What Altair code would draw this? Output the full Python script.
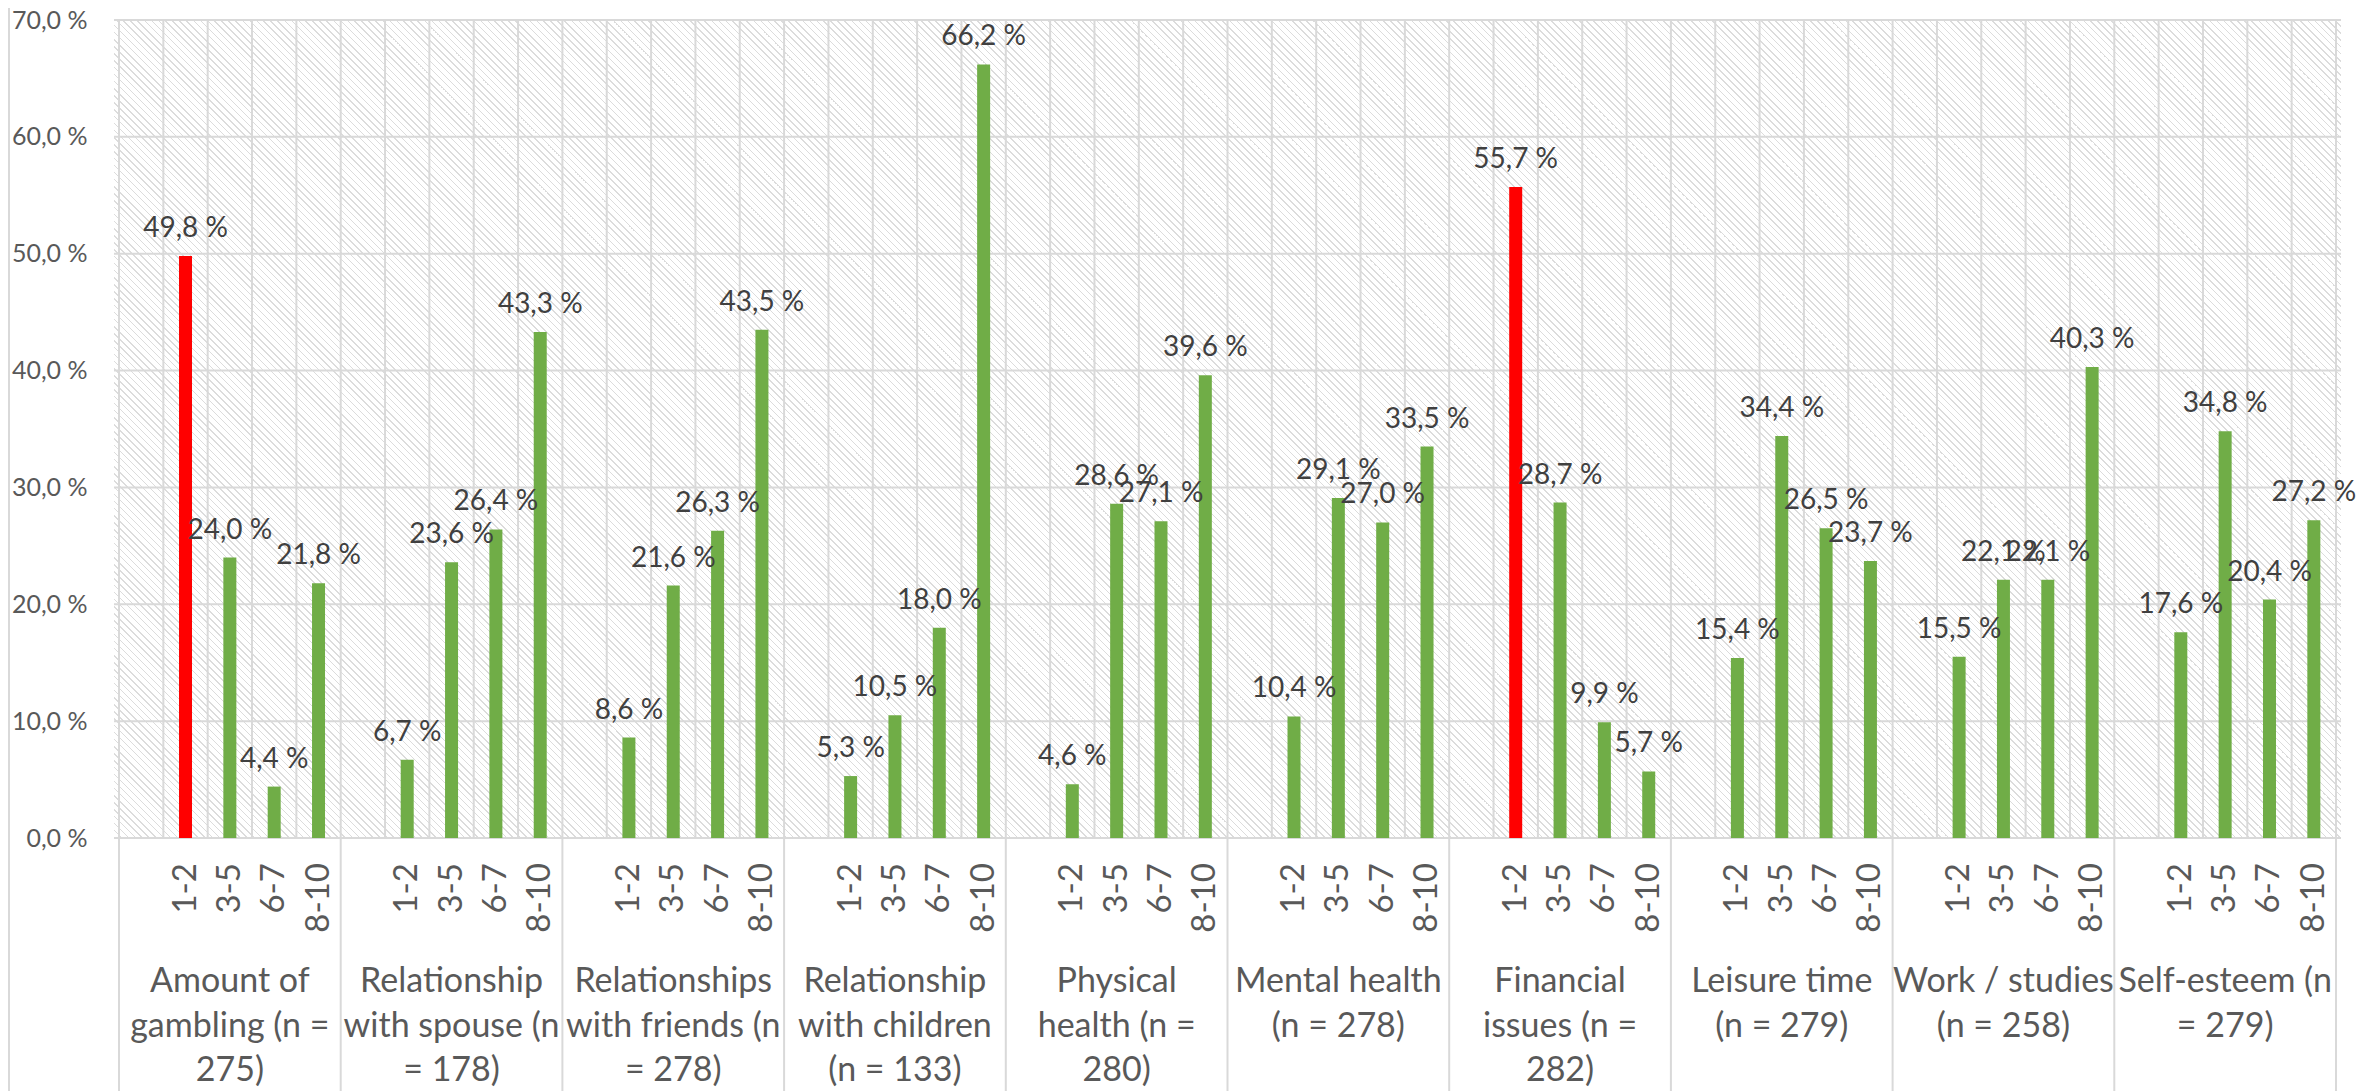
import altair as alt
import pandas as pd

# ---------------- data ----------------
groups = [
    "Amount of gambling", "Relationship with spouse", "Relationships with friends",
    "Relationship with children", "Physical health", "Mental health",
    "Financial issues", "Leisure time", "Work / studies", "Self-esteem",
]
group_labels = [
    "Amount of\ngambling (n =\n275)",
    "Relationship\nwith spouse (n\n= 178)",
    "Relationships\nwith friends (n\n= 278)",
    "Relationship\nwith children\n(n = 133)",
    "Physical\nhealth (n =\n280)",
    "Mental health\n(n = 278)",
    "Financial\nissues (n =\n282)",
    "Leisure time\n(n = 279)",
    "Work / studies\n(n = 258)",
    "Self-esteem (n\n= 279)",
]
bins = ["1-2", "3-5", "6-7", "8-10"]
amount_of_gambling = [49.8, 24.0, 4.4, 21.8]
relationship_spouse = [6.7, 23.6, 26.4, 43.3]
relationships_friends = [8.6, 21.6, 26.3, 43.5]
relationship_children = [5.3, 10.5, 18.0, 66.2]
physical_health = [4.6, 28.6, 27.1, 39.6]
mental_health = [10.4, 29.1, 27.0, 33.5]
financial_issues = [55.7, 28.7, 9.9, 5.7]
leisure_time = [15.4, 34.4, 26.5, 23.7]
work_studies = [15.5, 22.1, 22.1, 40.3]
self_esteem = [17.6, 34.8, 20.4, 27.2]
series = [amount_of_gambling, relationship_spouse, relationships_friends,
          relationship_children, physical_health, mental_health,
          financial_issues, leisure_time, work_studies, self_esteem]
highlighted = [("Amount of gambling", "1-2"), ("Financial issues", "1-2")]
y_ticks = [0, 10, 20, 30, 40, 50, 60, 70]

SLOTS = 5  # each group: one empty slot + four bins

rows = []
for gi, (g, vals) in enumerate(zip(groups, series)):
    for bi, (b, v) in enumerate(zip(bins, vals)):
        rows.append({
            "group": g, "bin": b, "value": v,
            "pos": gi * SLOTS + bi + 1.5,
            "label": f"{v:.1f}".replace(".", ",") + " %",
            "hl": "yes" if (g, b) in highlighted else "no",
        })
df = pd.DataFrame(rows)
gdf = pd.DataFrame({"glabel": group_labels,
                    "center": [gi * SLOTS + 2.5 for gi in range(len(groups))]})
slot_edges = pd.DataFrame({"edge": list(range(len(groups) * SLOTS + 1))})
group_edges = pd.DataFrame({"edge": list(range(0, len(groups) * SLOTS + 1, SLOTS))})
grid_df = pd.DataFrame({"value": y_ticks})

# ---------------- layout / style ----------------
W, H = 2227, 818
GRID = "#d9d9d9"
FONT = "Lato"
xs = alt.Scale(domain=[0, len(groups) * SLOTS], nice=False, zero=False)
ys = alt.Scale(domain=[0, 70], nice=False)
yaxis = alt.Axis(values=y_ticks, grid=False, ticks=False, domain=False,
                 labelExpr="replace(format(datum.value, '.1f'), '.', ',') + ' %'",
                 labelFont=FONT, labelFontSize=25, labelColor="#595959",
                 labelPadding=27, title=None)

# hatch (downward diagonal) gradient in bounding-box units
period = 7.0
N = int(round((W + H) / period))
frac = 0.27
stripe, white = "#dcdcdc", "#ffffff"
stops = []
for k in range(N):
    o0, o1, o2 = k / N, (k + frac) / N, (k + 1) / N
    stops += [{"offset": round(o0, 6), "color": stripe},
              {"offset": round(o1, 6), "color": stripe},
              {"offset": round(o1, 6), "color": white},
              {"offset": round(min(o2, 1.0), 6), "color": white}]
a = (W + H) * W / (W * W + H * H)
b = -(W + H) * H / (W * W + H * H)
hatch = {"gradient": "linear", "x1": 0, "y1": 1, "x2": a, "y2": 1 + b, "stops": stops}

bg = alt.Chart(alt.Data(values=[{"k": 1}])).mark_rect(fill=hatch).encode(
    x=alt.value(0), x2=alt.value(W), y=alt.value(0), y2=alt.value(H))

vgrid = alt.Chart(slot_edges).mark_rule(color=GRID, strokeWidth=2).encode(
    x=alt.X("edge:Q", scale=xs, axis=None), y=alt.value(0), y2=alt.value(H))

hgrid = alt.Chart(grid_df).mark_rule(color=GRID, strokeWidth=2).encode(
    y=alt.Y("value:Q", scale=ys, axis=yaxis), x=alt.value(0), x2=alt.value(W))

seps = alt.Chart(group_edges).mark_rule(color=GRID, strokeWidth=2).encode(
    x=alt.X("edge:Q", scale=xs, axis=None), y=alt.value(H), y2=alt.value(H + 270))

border = alt.Chart(alt.Data(values=[{"k": 1}])).mark_rule(color=GRID, strokeWidth=2).encode(
    x=alt.value(-105), y=alt.value(-12), y2=alt.value(H + 270))

bars = alt.Chart(df).mark_bar(size=13).encode(
    x=alt.X("pos:Q", scale=xs, axis=None),
    y=alt.Y("value:Q", scale=ys, axis=yaxis),
    color=alt.Color("hl:N", scale=alt.Scale(domain=["no", "yes"], range=["#70AD47", "#FF0000"]),
                    legend=None),
)

dlabels = alt.Chart(df).mark_text(font=FONT, fontSize=28, color="#404040",
                                  baseline="alphabetic", dy=-19).encode(
    x=alt.X("pos:Q", scale=xs, axis=None),
    y=alt.Y("value:Q", scale=ys, axis=yaxis),
    text="label:N",
)

ticklabels = alt.Chart(df).mark_text(font=FONT, fontSize=33, color="#595959",
                                     angle=270, align="right", baseline="middle").encode(
    x=alt.X("pos:Q", scale=xs, axis=None),
    y=alt.value(H + 25),
    text="bin:N",
)

glabels = alt.Chart(gdf).mark_text(font=FONT, fontSize=34, color="#595959",
                                   align="center", baseline="alphabetic",
                                   lineBreak="\n", lineHeight=44.5).encode(
    x=alt.X("center:Q", scale=xs, axis=None),
    y=alt.value(H + 154),
    text="glabel:N",
)

chart = alt.layer(bg, vgrid, hgrid, seps, bars, dlabels, ticklabels, glabels, border).properties(
    width=W, height=H,
    autosize=alt.AutoSizeParams(type="none"),
    padding={"left": 106, "top": 12, "right": 20, "bottom": 253},
    background="white",
).configure_view(stroke=None)

chart.save("out.html", embed_options={"renderer": "svg", "actions": False})
